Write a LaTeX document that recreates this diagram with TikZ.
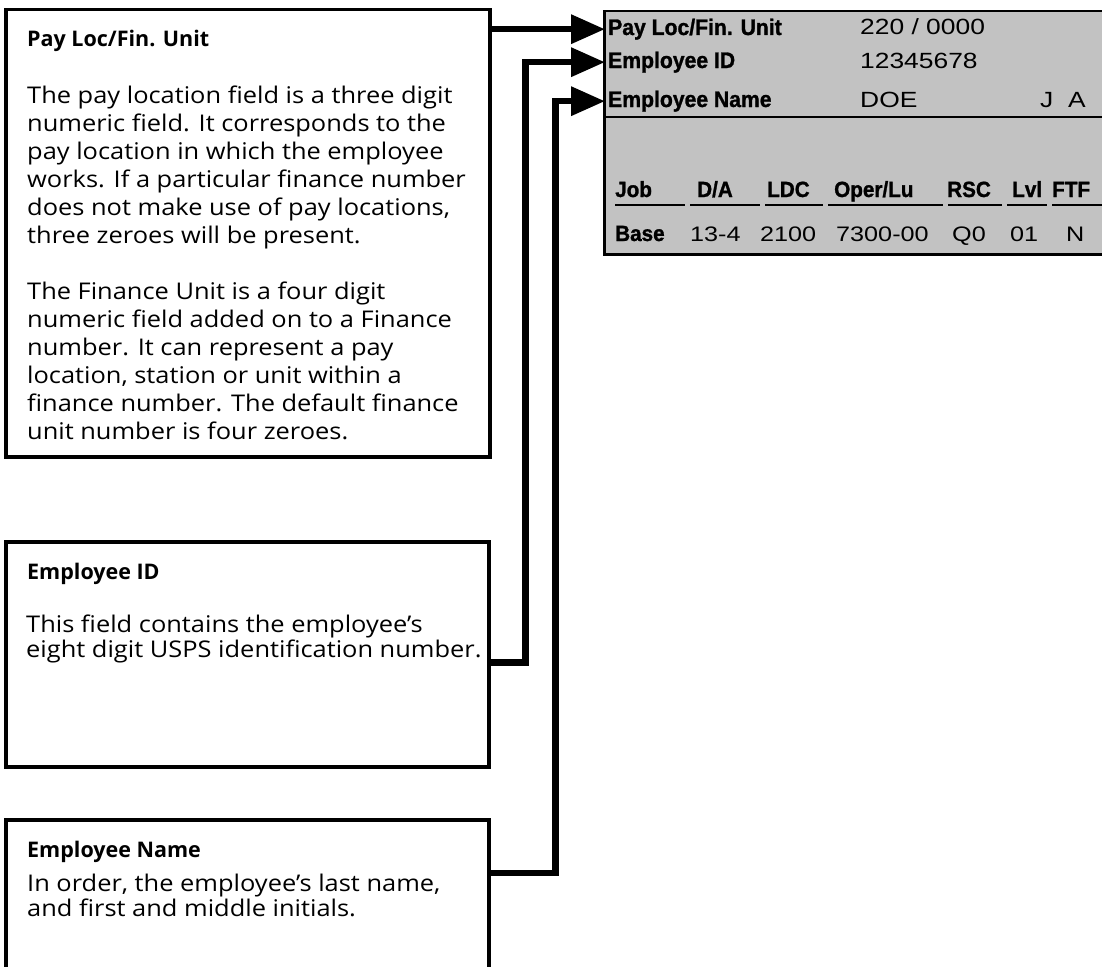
\documentclass[tikz,border=0pt]{standalone}
\usepackage{fontspec}
\setmainfont{Open Sans}[FakeStretch=1.105]
\newfontfamily\boxhead{Open Sans}
\newfontfamily\formbold[FakeStretch=0.94,FakeBold=1.2]{Liberation Sans}
\newfontfamily\formval[FakeStretch=1.2]{Liberation Sans}
\usetikzlibrary{arrows.meta}

\begin{document}
\begin{tikzpicture}[x=1pt,y=-1pt,
  infobox/.style={draw=black, line width=3.5pt, anchor=north west, inner sep=0pt},
  infotext/.style={anchor=north west, inner sep=0pt, align=left,
    font=\fontsize{23}{#1}\selectfont},
  heading/.style={anchor=base west, inner sep=0pt,
    font=\boxhead\bfseries\fontsize{21.5}{28}\selectfont},
  conn/.style={line width=6.5pt, line join=miter, -{Triangle[length=34pt,width=28pt]}},
  panel/.style={draw=black, line width=2.5pt, fill=black!24, anchor=north west, inner sep=0pt},
  flabel/.style={anchor=base west, inner sep=0pt, font=\formbold\bfseries\fontsize{22.5}{23}\selectfont},
  fvalue/.style={anchor=base west, inner sep=0pt, font=\formval\fontsize{22}{23}\selectfont},
  colhead/.style={anchor=base west, inner sep=0pt, font=\formbold\bfseries\fontsize{22}{22}\selectfont},
  colval/.style={anchor=base west, inner sep=0pt, font=\formval\fontsize{21}{22}\selectfont},
  uline/.style={line width=2.5pt}]

\useasboundingbox (0,0) rectangle (1102,966);
\clip (0,0) rectangle (1102,966);

% ---- screen excerpt ----
\node[panel, minimum width=520pt, minimum height=243pt] (panel) at (603,10) {};
\coordinate (divl) at ([shift={(0,107)}]panel.north west);
\draw[line width=2.5pt] (divl) -- (divl -| panel.east);

\node[flabel] (lpay)  at (608,35)  {Pay Loc/Fin. Unit};
\node[flabel] (lid)   at (608,68)  {Employee ID};
\node[flabel] (lname) at (608,107) {Employee Name};
\node[fvalue] (vpay)  at (860,35)  {220 / 0000};
\node[fvalue] (vid)   at (860,68)  {12345678};
\node[fvalue] (vname) at (860,107) {DOE};
\node[fvalue] (vfi)   at (1040,107) {J};
\node[fvalue] (vmi)   at (1068,107) {A};

% column headings and their underlines
\node[colhead] (hjob) at (615,197) {Job};
\node[colhead] (hda)  at (697,197) {D/A};
\node[colhead] (hldc) at (767,197) {LDC};
\node[colhead] (hop)  at (834,197) {Oper/Lu};
\node[colhead] (hrsc) at (947,197) {RSC};
\node[colhead] (hlvl) at (1012,197) {Lvl};
\node[colhead] (hftf) at (1052,197) {FTF};
\foreach \a/\b in {615/685, 690/760, 765/823, 828/943, 948/1002, 1007/1047, 1052/1110}
  \draw[uline] (\a,205) -- (\b,205);

% base job row
\node[colhead] (rbase) at (615,241) {Base};
\node[colval]  (rda)   at (690,241) {13-4};
\node[colval]  (rldc)  at (760,241) {2100};
\node[colval]  (rop)   at (836,241) {7300-00};
\node[colval]  (rrsc)  at (952,241) {Q0};
\node[colval]  (rlvl)  at (1010,241) {01};
\node[colval]  (rftf)  at (1066,241) {N};

% ---- explanation boxes (the last one runs on past the lower edge) ----
\node[infobox, minimum width=484pt, minimum height=447pt] (box1) at (4,8) {};
\node[infobox, minimum width=483pt, minimum height=225pt] (box2) at (4,540) {};
\node[infobox, minimum width=483pt, minimum height=165pt] (box3) at (4,818) {};

\node[heading] (h1) at ([shift={(23,39)}]box1.north west) {Pay Loc/Fin. Unit};
\node[infotext=28] (t1) at ([shift={(23,75)}]box1.north west) {%
  \rule{0pt}{20pt}The pay location field is a three digit\\
  numeric field. It corresponds to the\\
  pay location in which the employee\\
  works. If a particular finance number\\
  does not make use of pay locations,\\
  three zeroes will be present.\\[28pt]
  The Finance Unit is a four digit\\
  numeric field added on to a Finance\\
  number. It can represent a pay\\
  location, station or unit within a\\
  finance number. The default finance\\
  unit number is four zeroes.};

\node[heading] (h2) at ([shift={(23,39)}]box2.north west) {Employee ID};
\node[infotext=25] (t2) at ([shift={(22,72)}]box2.north west) {%
  \rule{0pt}{20pt}This field contains the employee’s\\
  eight digit USPS identification number.};

\node[heading] (h3) at ([shift={(23,39)}]box3.north west) {Employee Name};
\node[infotext=25] (t3) at ([shift={(23,53)}]box3.north west) {%
  \rule{0pt}{20pt}In order, the employee’s last name,\\
  and first and middle initials.};

% ---- connectors ----
\draw[conn] (box1.north east |- lpay.west) -- ([xshift=-3pt]lpay.west);
\draw[conn] ([shift={(0,8)}]box2.east) -- ++(35,0) |- ([xshift=-3pt]lid.west);
\draw[conn] ([shift={(0,55)}]box3.north east) -- ++(65,0) |- ([xshift=-3pt]lname.west);
\end{tikzpicture}
\end{document}
